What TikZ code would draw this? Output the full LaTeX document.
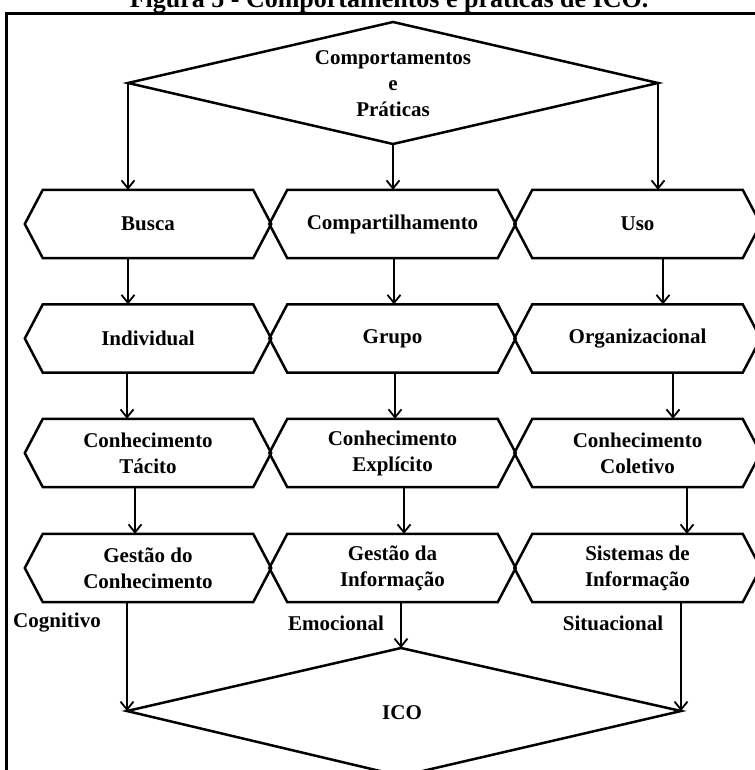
\documentclass[tikz,border=0pt]{standalone}
\usepackage{fontspec}
\setmainfont{Liberation Serif}
\usetikzlibrary{arrows.meta,calc}

\tikzset{
  lbl/.style={font=\bfseries\fontsize{21}{26}\selectfont, align=center, inner sep=0pt},
  hexbox/.style={lbl, minimum width=210pt, minimum height=68pt},
  outline/.style={line width=2.5pt, line join=miter},
  arr/.style={line width=1.8pt, -{Straight Barb[length=8pt,width=13pt,line width=1.8pt]}},
  frame/.style={line width=3pt},
}

% hexagonal box: rectangle node plus pointed ends
\newcommand\hexnode[4]{%
  \node[hexbox] (#1) at (#2,#3) {#4};
  \draw[outline] ([xshift=-18pt]#1.west) -- (#1.north west) -- (#1.north east)
    -- ([xshift=18pt]#1.east) -- (#1.south east) -- (#1.south west) -- cycle;
}
% downward arrow from one box to the next, shifted horizontally
\newcommand\downlink[3]{%
  \coordinate (tmp) at ([xshift=#3pt]#1.south);
  \draw[arr] (tmp) -- (tmp |- #2.north);
}

\begin{document}
\begin{tikzpicture}[x=1pt,y=-1pt]
\useasboundingbox (0,0) rectangle (754,770);

% caption and frame
\node[font=\bfseries\fontsize{26}{30}\selectfont, anchor=base, inner sep=0pt]
  (title) at (389,8) {Figura 5 - Comportamentos e práticas de ICO.};
\draw[frame] (6,790) -- (6,14) -- (770,14) -- (770,790);

% top decision shape
\coordinate (kN) at (393,22);
\coordinate (kE) at (658,83);
\coordinate (kS) at (393,144);
\coordinate (kW) at (128,83);
\draw[outline] (kN) -- (kE) -- (kS) -- (kW) -- cycle;
\node[lbl] (kite) at (393,84) {Comportamentos\\e\\Práticas};

% row 1
\hexnode{b1}{148}{224}{Busca}
\hexnode{b2}{392.5}{224}{Compartilhamento}
\hexnode{b3}{637.5}{224}{Uso}
% row 2
\hexnode{r1}{148}{338.5}{Individual}
\hexnode{r2}{392.5}{338.5}{Grupo}
\hexnode{r3}{637.5}{338.5}{Organizacional}
% row 3
\hexnode{c1}{148}{453}{Conhecimento\\Tácito}
\hexnode{c2}{392.5}{453}{Conhecimento\\Explícito}
\hexnode{c3}{637.5}{453}{Conhecimento\\Coletivo}
% row 4
\hexnode{g1}{148}{568}{Gestão do\\Conhecimento}
\hexnode{g2}{392.5}{568}{Gestão da\\Informação}
\hexnode{g3}{637.5}{568}{Sistemas de\\Informação}

% bottom decision shape
\coordinate (iN) at (401,648);
\coordinate (iE) at (681,711);
\coordinate (iS) at (401,776);
\coordinate (iW) at (127,711);
\draw[outline] (iN) -- (iE) -- (iS) -- (iW) -- cycle;
\node[lbl] (ico) at (402,713) {ICO};

% labels of the three dimensions
\node[lbl] (cog) at (57,623) {Cognitivo};
\node[lbl] (emo) at (336,623) {Emocional};
\node[lbl] (sit) at (613,623) {Situacional};

% connectors
\draw[arr] (kW) -- (kW |- b1.north);
\draw[arr] (kS) -- (kS |- b2.north);
\draw[arr] (kE) -- (kE |- b3.north);

\downlink{b1}{r1}{-20}
\downlink{b2}{r2}{1.5}
\downlink{b3}{r3}{25.5}

\downlink{r1}{c1}{-21}
\downlink{r2}{c2}{2.5}
\downlink{r3}{c3}{35.5}

\downlink{c1}{g1}{-13}
\downlink{c2}{g2}{11.5}
\downlink{c3}{g3}{49.5}

\draw[arr] (g1.south -| iW) -- (iW);
\draw[arr] (g2.south -| iN) -- (iN);
\draw[arr] (g3.south -| iE) -- (iE);
\end{tikzpicture}
\end{document}
